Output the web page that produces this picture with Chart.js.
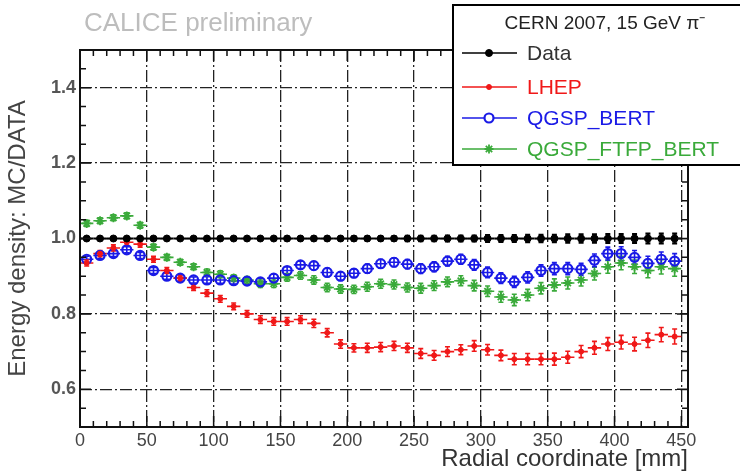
<!DOCTYPE html>
<html>
<head>
<meta charset="utf-8">
<script src="https://cdn.jsdelivr.net/npm/chart.js@4"></script>
<style>
  html, body { margin: 0; padding: 0; background: #fff; }
</style>
</head>
<body>
<canvas id="myChart" width="740" height="474"></canvas>
<script>
// bin centres [mm]
var radius = [5, 15, 25, 35, 45, 55, 65, 75, 85, 95, 105, 115, 125, 135, 145, 155, 165, 175, 185, 195,
  205, 215, 225, 235, 245, 255, 265, 275, 285, 295, 305, 315, 325, 335, 345, 355, 365, 375, 385, 395,
  405, 415, 425, 435, 445];

var dataRatio = [1, 1, 1, 1, 1, 1, 1, 1, 1, 1, 1, 1, 1, 1, 1, 1, 1, 1, 1, 1,
  1, 1, 1, 1, 1, 1, 1, 1, 1, 1, 1, 1, 1, 1, 1, 1, 1, 1, 1, 1, 1, 1, 1, 1, 1];

var lhep = [0.935, 0.96, 0.975, 0.99, 0.985, 0.945, 0.915, 0.895, 0.87, 0.855, 0.84, 0.82, 0.80, 0.785, 0.78,
  0.78, 0.785, 0.775, 0.75, 0.72, 0.71, 0.71, 0.712, 0.715, 0.71, 0.695, 0.69, 0.70, 0.705, 0.715,
  0.705, 0.69, 0.68, 0.68, 0.68, 0.68, 0.685, 0.70, 0.71, 0.72, 0.725, 0.72, 0.73, 0.745, 0.74];

var qgspBert = [0.945, 0.955, 0.96, 0.97, 0.955, 0.915, 0.90, 0.895, 0.89, 0.89, 0.89, 0.888, 0.887, 0.885, 0.895,
  0.915, 0.93, 0.928, 0.91, 0.90, 0.908, 0.92, 0.933, 0.937, 0.932, 0.92, 0.925, 0.94, 0.945, 0.93,
  0.91, 0.895, 0.885, 0.897, 0.915, 0.92, 0.92, 0.918, 0.942, 0.96, 0.96, 0.95, 0.934, 0.945, 0.94];

var qgspFtfpBert = [1.04, 1.047, 1.055, 1.06, 1.035, 0.977, 0.95, 0.937, 0.925, 0.91, 0.905, 0.895, 0.89, 0.88, 0.88,
  0.897, 0.902, 0.89, 0.87, 0.866, 0.865, 0.872, 0.88, 0.878, 0.87, 0.868, 0.875, 0.885, 0.888, 0.875,
  0.86, 0.845, 0.837, 0.85, 0.868, 0.877, 0.882, 0.89, 0.907, 0.925, 0.935, 0.925, 0.915, 0.925, 0.92];

// vertical error sizes
var errData = [0.003, 0.003, 0.003, 0.003, 0.003, 0.003, 0.003, 0.003, 0.003, 0.003, 0.004, 0.004, 0.004, 0.004, 0.004,
  0.005, 0.005, 0.005, 0.005, 0.005, 0.006, 0.006, 0.006, 0.006, 0.007, 0.007, 0.007, 0.008, 0.008, 0.008,
  0.009, 0.009, 0.009, 0.01, 0.01, 0.01, 0.011, 0.011, 0.011, 0.012, 0.012, 0.012, 0.013, 0.013, 0.013];

var errMC = [0.008, 0.008, 0.008, 0.008, 0.008, 0.008, 0.008, 0.008, 0.008, 0.009, 0.009, 0.009, 0.009, 0.01, 0.01,
  0.01, 0.01, 0.011, 0.011, 0.011, 0.011, 0.012, 0.012, 0.012, 0.012, 0.013, 0.013, 0.013, 0.013, 0.014,
  0.014, 0.014, 0.015, 0.015, 0.015, 0.016, 0.016, 0.016, 0.017, 0.017, 0.018, 0.018, 0.019, 0.019, 0.02];

var xTicks = [0, 50, 100, 150, 200, 250, 300, 350, 400, 450];
var yTicks = [0.6, 0.8, 1.0, 1.2, 1.4];

var FONT = "'Liberation Sans', Arial, sans-serif";

function points(vals, errs) {
  return radius.map(function (r, i) { return { x: r, y: vals[i], e: errs[i] }; });
}

var errorBars = {
  id: "errorBars",
  beforeDatasetsDraw: function (chart) {
    var ctx = chart.ctx, xs = chart.scales.x, ys = chart.scales.y, a = chart.chartArea;
    ctx.save();
    ctx.beginPath();
    ctx.rect(a.left, a.top, a.right - a.left, a.bottom - a.top);
    ctx.clip();
    for (var i = chart.data.datasets.length - 1; i >= 0; i--) {
      var ds = chart.data.datasets[i];
      ctx.strokeStyle = ds.borderColor;
      ctx.lineWidth = i === 0 ? 2.2 : 1.6;
      ds.data.forEach(function (p) {
        var x = xs.getPixelForValue(p.x), y = ys.getPixelForValue(p.y);
        var x0 = xs.getPixelForValue(p.x - 5), x1 = xs.getPixelForValue(p.x + 5);
        var yl = ys.getPixelForValue(p.y - p.e), yh = ys.getPixelForValue(p.y + p.e);
        ctx.beginPath();
        ctx.moveTo(x0, y); ctx.lineTo(x1, y);
        ctx.moveTo(x, yl); ctx.lineTo(x, yh);
        ctx.moveTo(x - 2.5, yl); ctx.lineTo(x + 2.5, yl);
        ctx.moveTo(x - 2.5, yh); ctx.lineTo(x + 2.5, yh);
        ctx.stroke();
      });
    }
    ctx.restore();
  }
};

var frame = {
  id: "frame",
  afterDatasetsDraw: function (chart) {
    var ctx = chart.ctx, xs = chart.scales.x, ys = chart.scales.y, a = chart.chartArea;
    ctx.save();
    ctx.strokeStyle = "#111";
    ctx.lineWidth = 1.5;
    ctx.beginPath();
    // inner ticks, x
    for (var v = 0; v <= 450; v += 10) {
      var px = xs.getPixelForValue(v);
      var len = v % 50 === 0 ? 11 : 6;
      ctx.moveTo(px, a.bottom); ctx.lineTo(px, a.bottom - len);
      ctx.moveTo(px, a.top); ctx.lineTo(px, a.top + len);
    }
    // inner ticks, y
    for (var k = 10; k <= 30; k++) {
      var py = ys.getPixelForValue(k * 0.05);
      var l2 = k % 4 === 0 ? 11 : 6;
      ctx.moveTo(a.left, py); ctx.lineTo(a.left + l2, py);
      ctx.moveTo(a.right, py); ctx.lineTo(a.right - l2, py);
    }
    ctx.stroke();
    ctx.lineWidth = 2;
    ctx.strokeRect(a.left, a.top, a.right - a.left, a.bottom - a.top);
    ctx.restore();
  },
  afterDraw: function (chart) {
    var ctx = chart.ctx;
    ctx.save();
    ctx.fillStyle = "#bdbdbd";
    ctx.font = "26px " + FONT;
    ctx.textBaseline = "middle";
    ctx.fillText("CALICE preliminary", 84, 24);

    // legend box
    ctx.fillStyle = "#fff";
    ctx.fillRect(453, 5, 290, 160);
    ctx.strokeStyle = "#000";
    ctx.lineWidth = 2;
    ctx.strokeRect(453, 5, 290, 160);
    ctx.fillStyle = "#222";
    ctx.font = "19px " + FONT;
    ctx.textAlign = "center";
    ctx.fillText("CERN 2007, 15 GeV \u03c0\u207b", 605, 24);
    ctx.textAlign = "left";
    var rows = [53, 87, 118, 149];
    chart.data.datasets.forEach(function (ds, i) {
      var y = rows[i];
      ctx.strokeStyle = ds.borderColor;
      ctx.lineWidth = 1.5;
      ctx.beginPath();
      ctx.moveTo(462, y); ctx.lineTo(517, y);
      ctx.stroke();
      ctx.fillStyle = ds.backgroundColor === "rgba(0,0,0,0)" ? "#fff" : ds.backgroundColor;
      ctx.lineWidth = ds.pointBorderWidth;
      Chart.helpers.drawPoint(ctx, {
        pointStyle: ds.pointStyle, radius: ds.pointRadius, borderWidth: ds.pointBorderWidth, rotation: 0
      }, 489, y);
      ctx.fillStyle = i === 0 ? "#333" : ds.borderColor;
      ctx.font = "21px " + FONT;
      ctx.fillText(ds.label, 527, y + 1);
    });
    ctx.restore();
  }
};

var ctx = document.getElementById("myChart").getContext("2d");
var myChart = new Chart(ctx, {
  type: "scatter",
  data: {
    datasets: [
      {
        label: "Data",
        data: points(dataRatio, errData),
        borderColor: "#000",
        backgroundColor: "#000",
        pointStyle: "circle",
        pointRadius: 3.5,
        pointBorderWidth: 1
      },
      {
        label: "LHEP",
        data: points(lhep, errMC),
        borderColor: "#f01818",
        backgroundColor: "#f01818",
        pointStyle: "circle",
        pointRadius: 2.5,
        pointBorderWidth: 1
      },
      {
        label: "QGSP_BERT",
        data: points(qgspBert, errMC),
        borderColor: "#1a1ae6",
        backgroundColor: "rgba(0,0,0,0)",
        pointStyle: "circle",
        pointRadius: 4.5,
        pointBorderWidth: 2.2
      },
      {
        label: "QGSP_FTFP_BERT",
        data: points(qgspFtfpBert, errMC),
        borderColor: "#3aaa3a",
        backgroundColor: "#3aaa3a",
        pointStyle: "star",
        pointRadius: 4.5,
        pointBorderWidth: 1.8
      }
    ]
  },
  options: {
    responsive: false,
    animation: false,
    layout: { padding: { top: 50, right: 52, left: 4, bottom: 0 } },
    plugins: {
      legend: { display: false },
      tooltip: { enabled: false }
    },
    scales: {
      x: {
        type: "linear",
        min: 0,
        max: 455,
        afterBuildTicks: function (scale) {
          scale.ticks = xTicks.map(function (v) { return { value: v }; });
        },
        afterFit: function (scale) { scale.height = 47; },
        grid: { color: "#222", lineWidth: 1.3, drawTicks: false },
        border: { display: false, dash: [12, 3, 2, 3] },
        ticks: { color: "#444", font: { family: FONT, size: 18 }, padding: 3, maxRotation: 0 },
        title: {
          display: true, text: "Radial coordinate [mm]", align: "end",
          color: "#333", font: { family: FONT, size: 24 }, padding: { top: 0, bottom: 0 }
        }
      },
      y: {
        type: "linear",
        min: 0.5,
        max: 1.5,
        afterBuildTicks: function (scale) {
          scale.ticks = yTicks.map(function (v) { return { value: v }; });
        },
        afterFit: function (scale) { scale.width = 76; },
        grid: { color: "#222", lineWidth: 1.3, drawTicks: false },
        border: { display: false, dash: [12, 3, 2, 3] },
        ticks: {
          color: "#555", font: { family: FONT, size: 18, weight: "bold" }, padding: 4,
          callback: function (v) { return v.toFixed(1); }
        },
        title: {
          display: true, text: "Energy density: MC/DATA", align: "center",
          color: "#444", font: { family: FONT, size: 24 }, padding: { top: 0, bottom: 0 }
        }
      }
    }
  },
  plugins: [errorBars, frame]
});
</script>
</body>
</html>
